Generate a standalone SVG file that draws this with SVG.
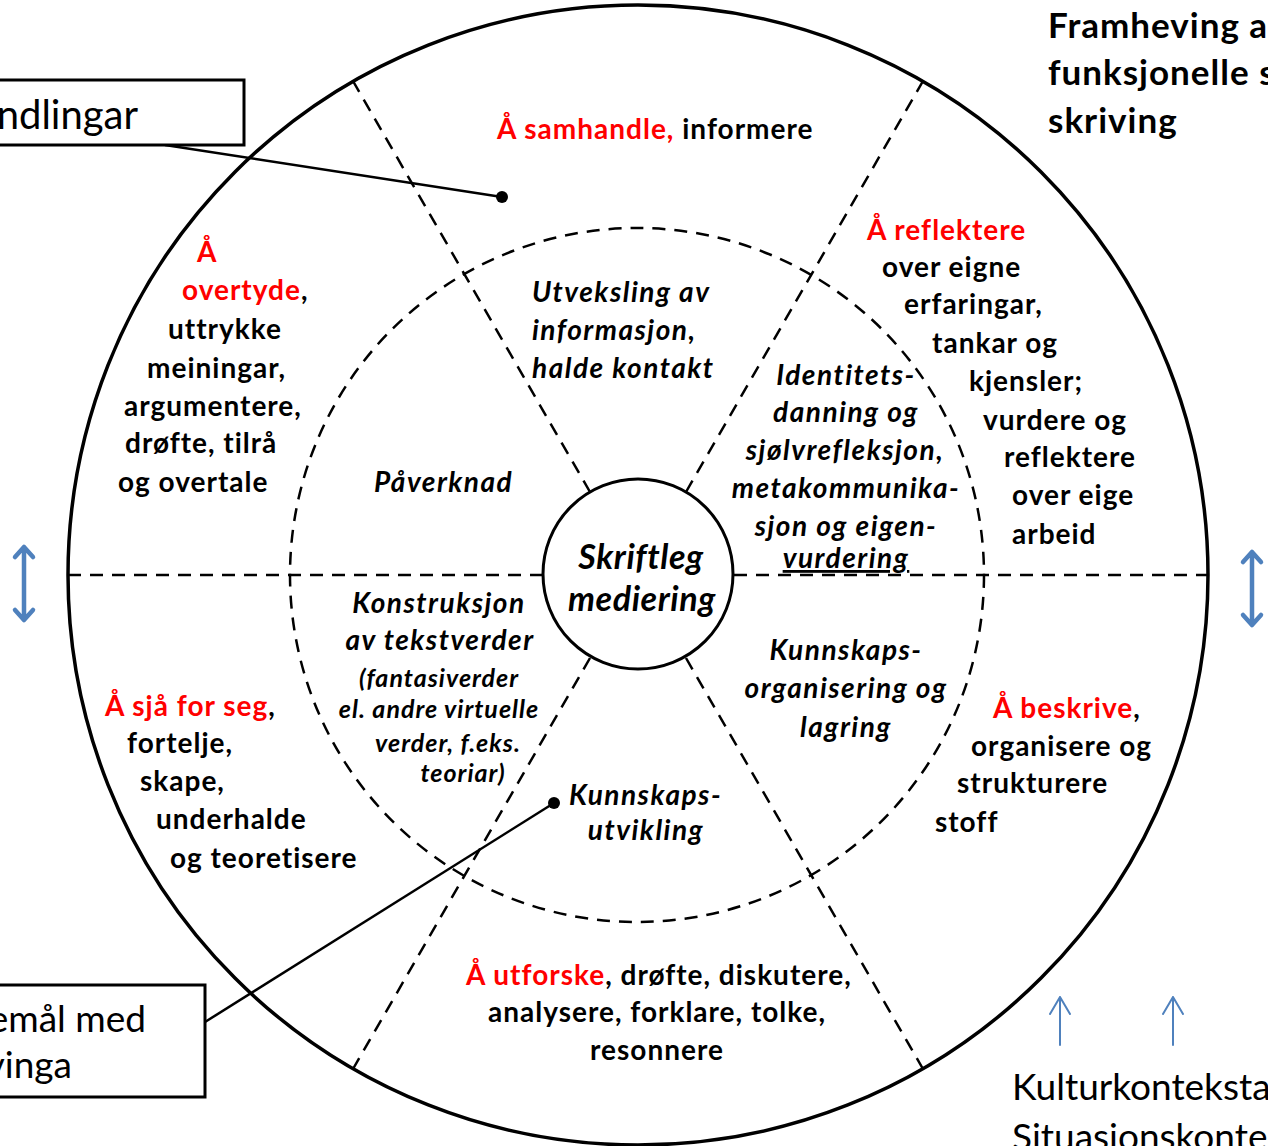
<svg xmlns="http://www.w3.org/2000/svg" width="1268" height="1146" viewBox="0 0 1268 1146">
<style>
.t{font-family:Lato,"Open Sans","Liberation Sans",sans-serif;font-weight:bold;font-size:28px;letter-spacing:1px;fill:#000}
.r{fill:#ff0000}
.i{font-style:italic;letter-spacing:1.5px}
.c{text-anchor:middle}
.s{font-size:25px;letter-spacing:1px}
.ctr{font-size:34px;letter-spacing:0.6px}
.ttl{font-size:35px;letter-spacing:1px}
.reg{font-family:Lato,"Open Sans","Liberation Sans",sans-serif;font-size:37px;fill:#000}
.big{font-size:40px}
.end{text-anchor:end}
.dash{fill:none;stroke:#000;stroke-width:2.5;stroke-dasharray:13 9}
.solid{fill:none;stroke:#000}
.blue{fill:none;stroke:#4F81BD;stroke-linecap:round;stroke-linejoin:round}
</style>
<rect width="1268" height="1146" fill="#fff"/>
<g id="wheel">
<circle cx="638" cy="575" r="570" class="solid" stroke-width="3.5"/>
<circle cx="637" cy="575" r="347" class="dash"/>
</g>
<g id="connectors">
<line x1="68" y1="575" x2="542" y2="575" class="dash"/>
<line x1="734" y1="575" x2="1208" y2="575" class="dash"/>
<line x1="590" y1="492" x2="353" y2="81" class="dash"/>
<line x1="686" y1="492" x2="923" y2="81" class="dash"/>
<line x1="590" y1="658" x2="353" y2="1069" class="dash"/>
<line x1="686" y1="658" x2="923" y2="1069" class="dash"/>
<line x1="165" y1="145" x2="502" y2="197" class="solid" stroke-width="2.5"/>
<circle cx="502" cy="197" r="6" fill="#000"/>
<line x1="205" y1="1022" x2="554" y2="803" class="solid" stroke-width="2.5"/>
<circle cx="554" cy="803" r="6" fill="#000"/>
<path d="M24 547 V620 M15 557 L24 547 L33 557 M15 610 L24 620 L33 610" class="blue" stroke-width="4.5"/>
<path d="M1252 552 V625 M1243 562 L1252 552 L1261 562 M1243 615 L1252 625 L1261 615" class="blue" stroke-width="4.5"/>
<path d="M1060 1045 V997 M1050 1014 L1060 997 L1070 1014" class="blue" stroke-width="2"/>
<path d="M1173 1045 V997 M1163 1014 L1173 997 L1183 1014" class="blue" stroke-width="2"/>
</g>
<g id="center">
<circle cx="638" cy="574" r="95" fill="#fff" stroke="#000" stroke-width="3"/>
<text class="t i c ctr" x="641" y="569">Skriftleg</text>
<text class="t i c ctr" x="642" y="611">mediering</text>
</g>
<g id="box-top">
<rect x="-5" y="80" width="249" height="65" fill="#fff" stroke="#000" stroke-width="3"/>
<text class="reg big end" x="138" y="129">ndlingar</text>
</g>
<g id="box-bottom">
<rect x="-5" y="985" width="210" height="112" fill="#fff" stroke="#000" stroke-width="3"/>
<text class="reg end" x="146" y="1032">emål med</text>
<text class="reg end" x="72" y="1078">vinga</text>
</g>
<g id="title">
<text class="t ttl" x="1048" y="38">Framheving a</text>
<text class="t ttl" x="1048" y="85">funksjonelle s</text>
<text class="t ttl" x="1048" y="133">skriving</text>
</g>
<g id="context">
<text class="reg" x="1012" y="1100">Kulturkonteksta</text>
<text class="reg" x="1012" y="1150">Situasjonskonte</text>
</g>
<g id="sector-top">
<text class="t" x="497" y="139"><tspan class="r">Å samhandle,</tspan> informere</text>
</g>
<g id="sector-upper-left">
<text class="t r" x="197" y="262">Å</text>
<text class="t" x="182" y="300"><tspan class="r">overtyde</tspan>,</text>
<text class="t" x="168" y="339">uttrykke</text>
<text class="t" x="147" y="378">meiningar,</text>
<text class="t" x="124" y="416">argumentere,</text>
<text class="t" x="125" y="453">drøfte, tilrå</text>
<text class="t" x="118" y="492">og overtale</text>
</g>
<g id="sector-upper-right">
<text class="t r" x="867" y="240">Å reflektere</text>
<text class="t" x="882" y="277">over eigne</text>
<text class="t" x="904" y="314">erfaringar,</text>
<text class="t" x="932" y="353">tankar og</text>
<text class="t" x="969" y="391">kjensler;</text>
<text class="t" x="983" y="430">vurdere og</text>
<text class="t" x="1004" y="467">reflektere</text>
<text class="t" x="1012" y="505">over eige</text>
<text class="t" x="1012" y="544">arbeid</text>
</g>
<g id="sector-lower-left">
<text class="t" x="105" y="716"><tspan class="r">Å sjå for seg</tspan>,</text>
<text class="t" x="127" y="753">fortelje,</text>
<text class="t" x="140" y="791">skape,</text>
<text class="t" x="156" y="829">underhalde</text>
<text class="t" x="170" y="868">og teoretisere</text>
</g>
<g id="sector-lower-right">
<text class="t" x="993" y="718"><tspan class="r">Å beskrive</tspan>,</text>
<text class="t" x="971" y="756">organisere og</text>
<text class="t" x="957" y="793">strukturere</text>
<text class="t" x="935" y="832">stoff</text>
</g>
<g id="sector-bottom">
<text class="t" x="466" y="985"><tspan class="r">Å utforske</tspan>, drøfte, diskutere,</text>
<text class="t" x="488" y="1022">analysere, forklare, tolke,</text>
<text class="t" x="590" y="1060">resonnere</text>
</g>
<g id="inner-top">
<text class="t i" x="532" y="302">Utveksling av</text>
<text class="t i" x="532" y="340">informasjon,</text>
<text class="t i" x="532" y="378">halde kontakt</text>
</g>
<g id="inner-left">
<text class="t i" x="374" y="492">Påverknad</text>
</g>
<g id="inner-upper-right">
<text class="t i c" x="846" y="385">Identitets-</text>
<text class="t i c" x="846" y="422">danning og</text>
<text class="t i c" x="845" y="460">sjølvrefleksjon,</text>
<text class="t i c" x="846" y="498">metakommunika-</text>
<text class="t i c" x="846" y="536">sjon og eigen-</text>
<text class="t i c" x="846" y="568" text-decoration="underline">vurdering</text>
</g>
<g id="inner-lower-left">
<text class="t i c" x="439" y="613">Konstruksjon</text>
<text class="t i c" x="440" y="650">av tekstverder</text>
<text class="t i c s" x="439" y="687">(fantasiverder</text>
<text class="t i c s" x="439" y="718">el. andre virtuelle</text>
<text class="t i c s" x="448" y="752">verder, f.eks.</text>
<text class="t i c s" x="463" y="782">teoriar)</text>
</g>
<g id="inner-bottom">
<text class="t i" x="569" y="805">Kunnskaps-</text>
<text class="t i c" x="646" y="840">utvikling</text>
</g>
<g id="inner-lower-right">
<text class="t i c" x="846" y="660">Kunnskaps-</text>
<text class="t i c" x="846" y="698">organisering og</text>
<text class="t i c" x="846" y="737">lagring</text>
</g>
</svg>
